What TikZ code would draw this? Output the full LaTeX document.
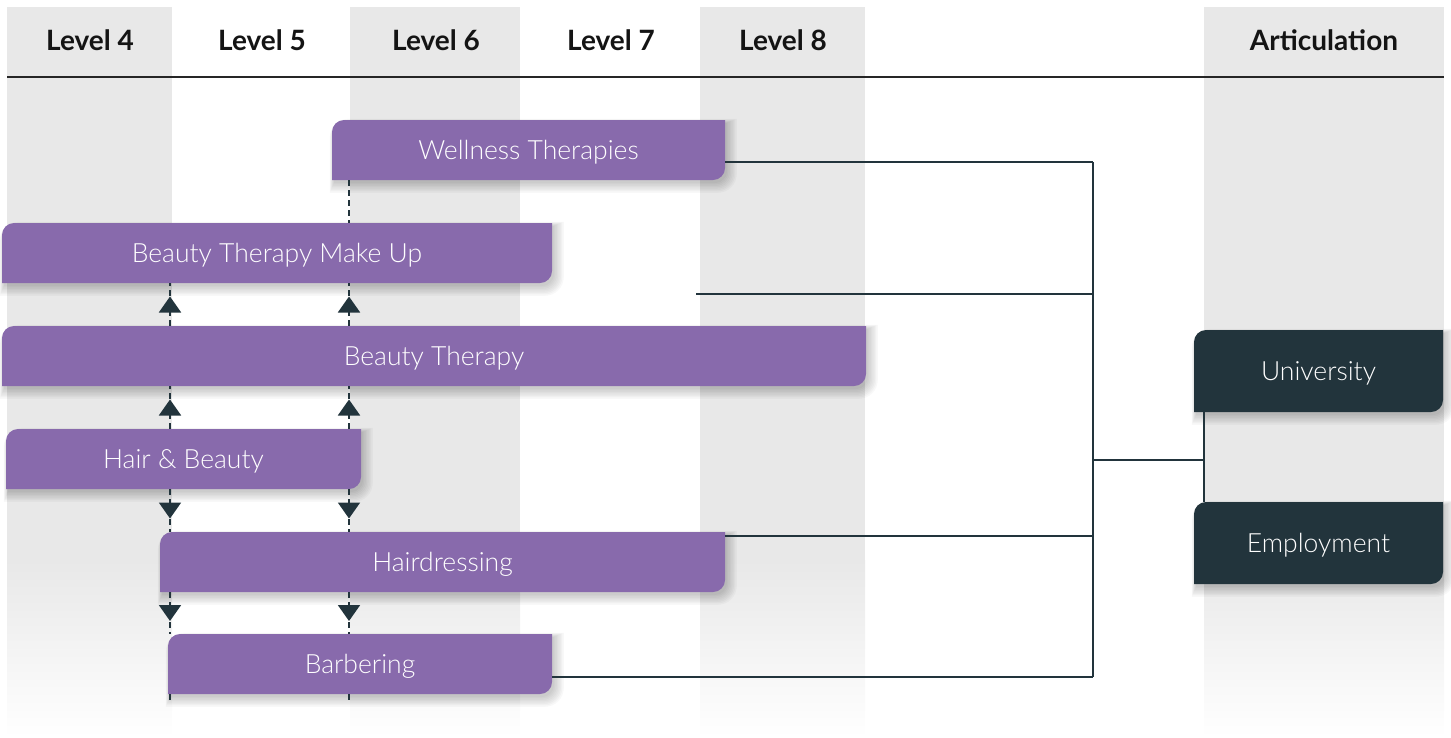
\documentclass[tikz,border=0pt]{standalone}
\usepackage{fontspec}
\setmainfont{Lato}
\newfontfamily\lightfont{Lato Light}
\usetikzlibrary{arrows.meta,decorations.markings}
\definecolor{gcol}{HTML}{E8E8E8}
\definecolor{pcol}{HTML}{886AAC}
\definecolor{dcol}{HTML}{22343C}
\tikzset{
  hdr/.style={font=\bfseries\fontsize{28}{32}\selectfont, text=black!92, anchor=center},
  boxtxt/.style={font=\lightfont\fontsize{26.5}{30}\selectfont, text=white, inner sep=0pt},
  shadowlayer/.style={fill=black, fill opacity=0.028},
  conn/.style={draw=dcol, line width=1.8pt},
  dl/.style={draw=dcol, line width=2pt, dash pattern=on 6pt off 4pt},
  arr/.style={dl, postaction={decorate}, decoration={markings, mark=at position 0.5 with {\arrow[xshift=8pt, solid]{Triangle[width=22pt,length=16pt]}}}}
}
% shape with rounded top-left and bottom-right corners; #5 = grow
\newcommand\qpath[5]{({#1-#5},{#4+#5}) -- ({#1-#5},{#2+12}) arc[start angle=180,end angle=90,radius={12pt+#5pt}] -- ({#3+#5},{#2-#5}) -- ({#3+#5},{#4-12}) arc[start angle=0,end angle=-90,radius={12pt+#5pt}] -- cycle}
\newcommand\qbox[7]{%
  \foreach \k in {0,1,...,7}{
    \fill[shadowlayer, xshift={(2+0.4*\k)*1pt}, yshift={-(3+0.4*\k)*1pt}] \qpath{#2}{#3}{#4}{#5}{\k};
  }
  \fill[#6] \qpath{#2}{#3}{#4}{#5}{0};
  \node[boxtxt, minimum width={(#4-#2)*1pt}, minimum height={(#5-#3)*1pt}] (#1) at ({(#2+#4)/2},{(#3+#5)/2}) {};
  \node[boxtxt] (#1-t) at ([yshift=-2pt]#1.center) {#7};
}
\begin{document}
\begin{tikzpicture}[x=1pt,y=-1pt]
\useasboundingbox (0,0) rectangle (1451,737);
% column backgrounds
\foreach \a/\b in {7/172,350/520,700/865,1204/1444}{
  \fill[gcol] (\a,7) rectangle (\b,560);
  \shade[top color=gcol, bottom color=white] (\a,560) rectangle (\b,737);
}
% headers
\node[hdr] (h4) at (90,40) {Level 4};
\node[hdr] (h5) at (262,40) {Level 5};
\node[hdr] (h6) at (436,40) {Level 6};
\node[hdr] (h7) at (611,40) {Level 7};
\node[hdr] (h8) at (783,40) {Level 8};
\node[hdr] (ha) at (1324,40) {Articulation};
\coordinate (hl) at (7,77);
\coordinate (hr) at (1444,77);
\draw[line width=1.2pt, black!85] (hl) -- (hr);
% coordinates for dashed guides
\coordinate (c4) at (170,0);
\coordinate (c6) at (349,0);
\coordinate (e4) at (170,700);
\coordinate (e6) at (349,700);
% boxes
\qbox{WT}{332}{120}{725}{180}{pcol}{Wellness Therapies}
\qbox{BTMU}{2}{223}{552}{283}{pcol}{Beauty Therapy Make Up}
\qbox{BT}{2}{326}{866}{386}{pcol}{Beauty Therapy}
\qbox{HB}{6}{429}{361}{489}{pcol}{Hair \& Beauty}
\qbox{HD}{160}{532}{725}{592}{pcol}{Hairdressing}
\qbox{BB}{168}{634}{552}{694}{pcol}{Barbering}
\qbox{UN}{1194}{330}{1443}{412}{dcol}{University}
\qbox{EM}{1194}{502}{1443}{584}{dcol}{Employment}
% dashed guides
\draw[dl] (WT.south -| c6) -- (BTMU.north -| c6);
\foreach \c in {c4,c6}{
  \draw[arr] (BT.north -| \c) -- (BTMU.south -| \c);
  \draw[arr] (HB.north -| \c) -- (BT.south -| \c);
  \draw[arr] (HB.south -| \c) -- (HD.north -| \c);
  \draw[arr] (HD.south -| \c) -- (BB.north -| \c);
}
\draw[dl] (BB.south -| c4) -- (e4);
\draw[dl] (BB.south -| c6) -- (e6);
% articulation connectors
\coordinate (bT) at (1093,162);
\coordinate (bL) at (1093,294);
\coordinate (bM) at (1093,460);
\coordinate (bH) at (1093,536);
\coordinate (bB) at (1093,677);
\coordinate (fL) at (696,294);
\coordinate (aM) at (1204,460);
\draw[conn] (WT.east |- bT) -- (bT);
\draw[conn] (fL) -- (bL);
\draw[conn] (HD.east |- bH) -- (bH);
\draw[conn] (BB.east |- bB) -- (bB);
\draw[conn] (bT) -- (bB);
\draw[conn] (bM) -- (aM);
\draw[conn] (UN.south -| aM) -- (EM.north -| aM);
\end{tikzpicture}
\end{document}
